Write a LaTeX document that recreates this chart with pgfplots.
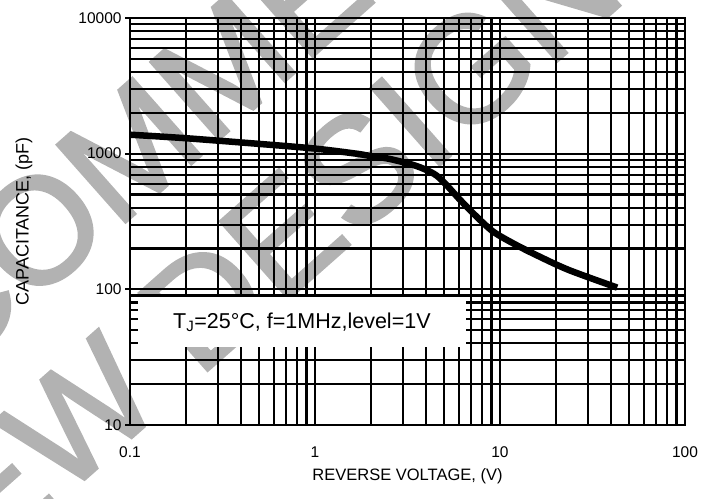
\documentclass[border=0pt]{standalone}
\usepackage{pgfplots}
\pgfplotsset{compat=1.18}
\usepackage{fontspec}
\setmainfont{Liberation Sans}
\newfontfamily\wmfont[FakeBold=2]{Liberation Sans}
\definecolor{wm}{RGB}{178,178,178}
\begin{document}
\begin{tikzpicture}
\path[use as bounding box] (-130bp,-74bp) rectangle (593bp,425bp);
\begin{scope}
\clip (-130bp,-74bp) rectangle (593bp,425bp);
\node[rotate=41.5, text=wm, inner sep=0pt, font=\wmfont\fontsize{150bp}{150bp}\selectfont] at (-54bp,228bp) {NOT RECOMMENDED};
\node[rotate=41.5, text=wm, inner sep=0pt, font=\wmfont\fontsize{150bp}{150bp}\selectfont] at (103bp,146bp) {NEW DESIGN};
\end{scope}
\begin{axis}[
 at={(0,0)}, anchor=south west,
 xmode=log, ymode=log,
 scale only axis, width=555bp, height=407bp,
 xmin=0.1, xmax=100, ymin=10, ymax=10000,
 xtick={0.1,1,10,100}, xticklabels={0.1,1,10,100},
 ytick={10,100,1000,10000}, yticklabels={10,100,1000,10000},
 grid=both,
 major grid style={black, line width=2.1bp},
 minor grid style={black, line width=2.1bp},
 axis line style={black, line width=2.1bp},
 tick pos=left, tick align=outside, major tick length=5bp, minor tick length=0pt,
 tick style={black, line width=2.1bp},
 x tick style={draw=none},
 /pgf/number format/assume math mode=true,
 ticklabel style={font=\fontsize{15.5bp}{17bp}\selectfont},
 xticklabel shift=13bp,
 every axis x label/.style={at={(axis description cs:0.5,0)}, anchor=center, yshift=-51bp, font=\fontsize{16.5bp}{18bp}\selectfont},
 every axis y label/.style={at={(axis description cs:0,0.5)}, anchor=center, xshift=-106bp, rotate=90, font=\fontsize{18bp}{20bp}\selectfont},
 xlabel={REVERSE VOLTAGE, (V)},
 ylabel={CAPACITANCE, (pF)},
]
\addplot[black, line width=6.5bp, smooth] coordinates {
(0.1,1380) (0.2,1300) (0.5,1180) (1,1090) (1.67,1000) (2,960) (2.5,918) (3.5,815) (4.4,710) (5.04,604) (6.1,455) (7.48,343) (9.2,266) (11.8,218) (15.7,179) (23.5,139) (43,103)
};
\fill[white] (axis cs:0.11,37.6) rectangle (axis cs:6.55,87.7);
\node[font=\fontsize{21.5bp}{23bp}\selectfont] at (axis cs:0.85,57.4) {T\textsubscript{J}=25°C, f=1MHz,level=1V};
\end{axis}
\end{tikzpicture}
\end{document}
